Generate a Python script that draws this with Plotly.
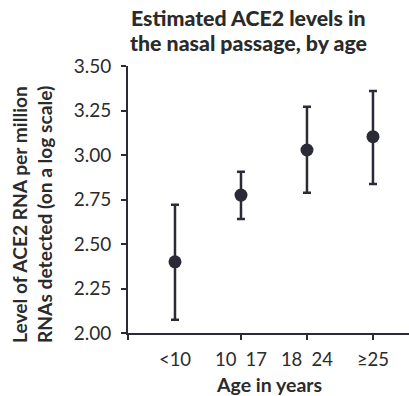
import plotly.graph_objects as go

categories = ["<10", "10\u200217", "18\u200224", "≥25"]
mean_level = [2.40, 2.775, 3.028, 3.103]
upper_level = [2.72, 2.906, 3.271, 3.36]
lower_level = [2.075, 2.64, 2.788, 2.837]
y_ticks = [2.00, 2.25, 2.50, 2.75, 3.00, 3.25, 3.50]

ink = "#2b2b38"
txt = "#2b2b2b"
xpos = list(range(len(categories)))

W, H = 409, 396
L, R, T, B = 128, 0, 66, 63
PW, PH = W - L - R, H - T - B

def px_x(px):
    return (px - L) / PW

def px_y(py):
    return (H - B - py) / PH

fig = go.Figure()
fig.add_trace(go.Scatter(
    x=xpos, y=mean_level, mode="markers",
    marker=dict(size=13, color=ink),
    error_y=dict(type="data", symmetric=False,
                 array=[u - m for u, m in zip(upper_level, mean_level)],
                 arrayminus=[m - l for m, l in zip(mean_level, lower_level)],
                 color=ink, thickness=2.5, width=4),
    showlegend=False, cliponaxis=False,
))
fig.add_trace(go.Scatter(x=xpos, y=mean_level, xaxis="x2", mode="markers",
                         marker=dict(opacity=0), showlegend=False, hoverinfo="skip"))

xr = [-0.712, 3.546]
fig.update_layout(
    width=W, height=H,
    margin=dict(l=L, r=R, t=T, b=B),
    paper_bgcolor="white", plot_bgcolor="white",
    font=dict(family="Lato", color=txt, size=16),
    xaxis=dict(range=xr, tickmode="array", tickvals=xpos, ticktext=categories,
               showgrid=False, zeroline=False, showline=True, linecolor=ink, linewidth=2,
               ticks="", tickfont=dict(size=18.5, color=txt), ticklabelstandoff=9),
    xaxis2=dict(range=xr, overlaying="x", side="bottom", tickmode="array",
                tickvals=[xr[0], 1, 2, 3], showticklabels=False, ticks="outside",
                ticklen=6, tickwidth=2, tickcolor=ink, showgrid=False, zeroline=False,
                showline=False),
    yaxis=dict(range=[2.0, 3.5], tickmode="array", tickvals=y_ticks,
               ticktext=[f"{v:.2f}" for v in y_ticks],
               showgrid=False, zeroline=False, showline=True, linecolor=ink, linewidth=2,
               ticks="outside", ticklen=5, tickwidth=2, tickcolor=ink,
               tickfont=dict(size=19, color=txt), ticklabelstandoff=6),
    annotations=[
        dict(text="Estimated ACE2 levels in",
             xref="paper", yref="paper", x=px_x(248.5), y=px_y(18.5),
             xanchor="center", yanchor="middle", showarrow=False,
             font=dict(family="Lato", size=21.3, color=txt, weight=900)),
        dict(text="the nasal passage, by age",
             xref="paper", yref="paper", x=px_x(248.5), y=px_y(43),
             xanchor="center", yanchor="middle", showarrow=False,
             font=dict(family="Lato", size=21.3, color=txt, weight=900)),
        dict(text="<b>Level of ACE2 RNA per million<br>RNAs detected (on a log scale)</b>",
             xref="paper", yref="paper", x=px_x(32), y=px_y(215),
             xanchor="center", yanchor="middle", showarrow=False, align="left",
             textangle=-90, font=dict(family="Lato", size=19.2, color=txt)),
        dict(text="<b>Age in years</b>",
             xref="paper", yref="paper", x=px_x(268.5), y=px_y(384),
             xanchor="center", yanchor="middle", showarrow=False,
             font=dict(family="Lato", size=19.5, color=txt)),
    ],
)

fig.write_html("out.html", config={"displayModeBar": False},
               post_script="document.body.style.margin='0';")
